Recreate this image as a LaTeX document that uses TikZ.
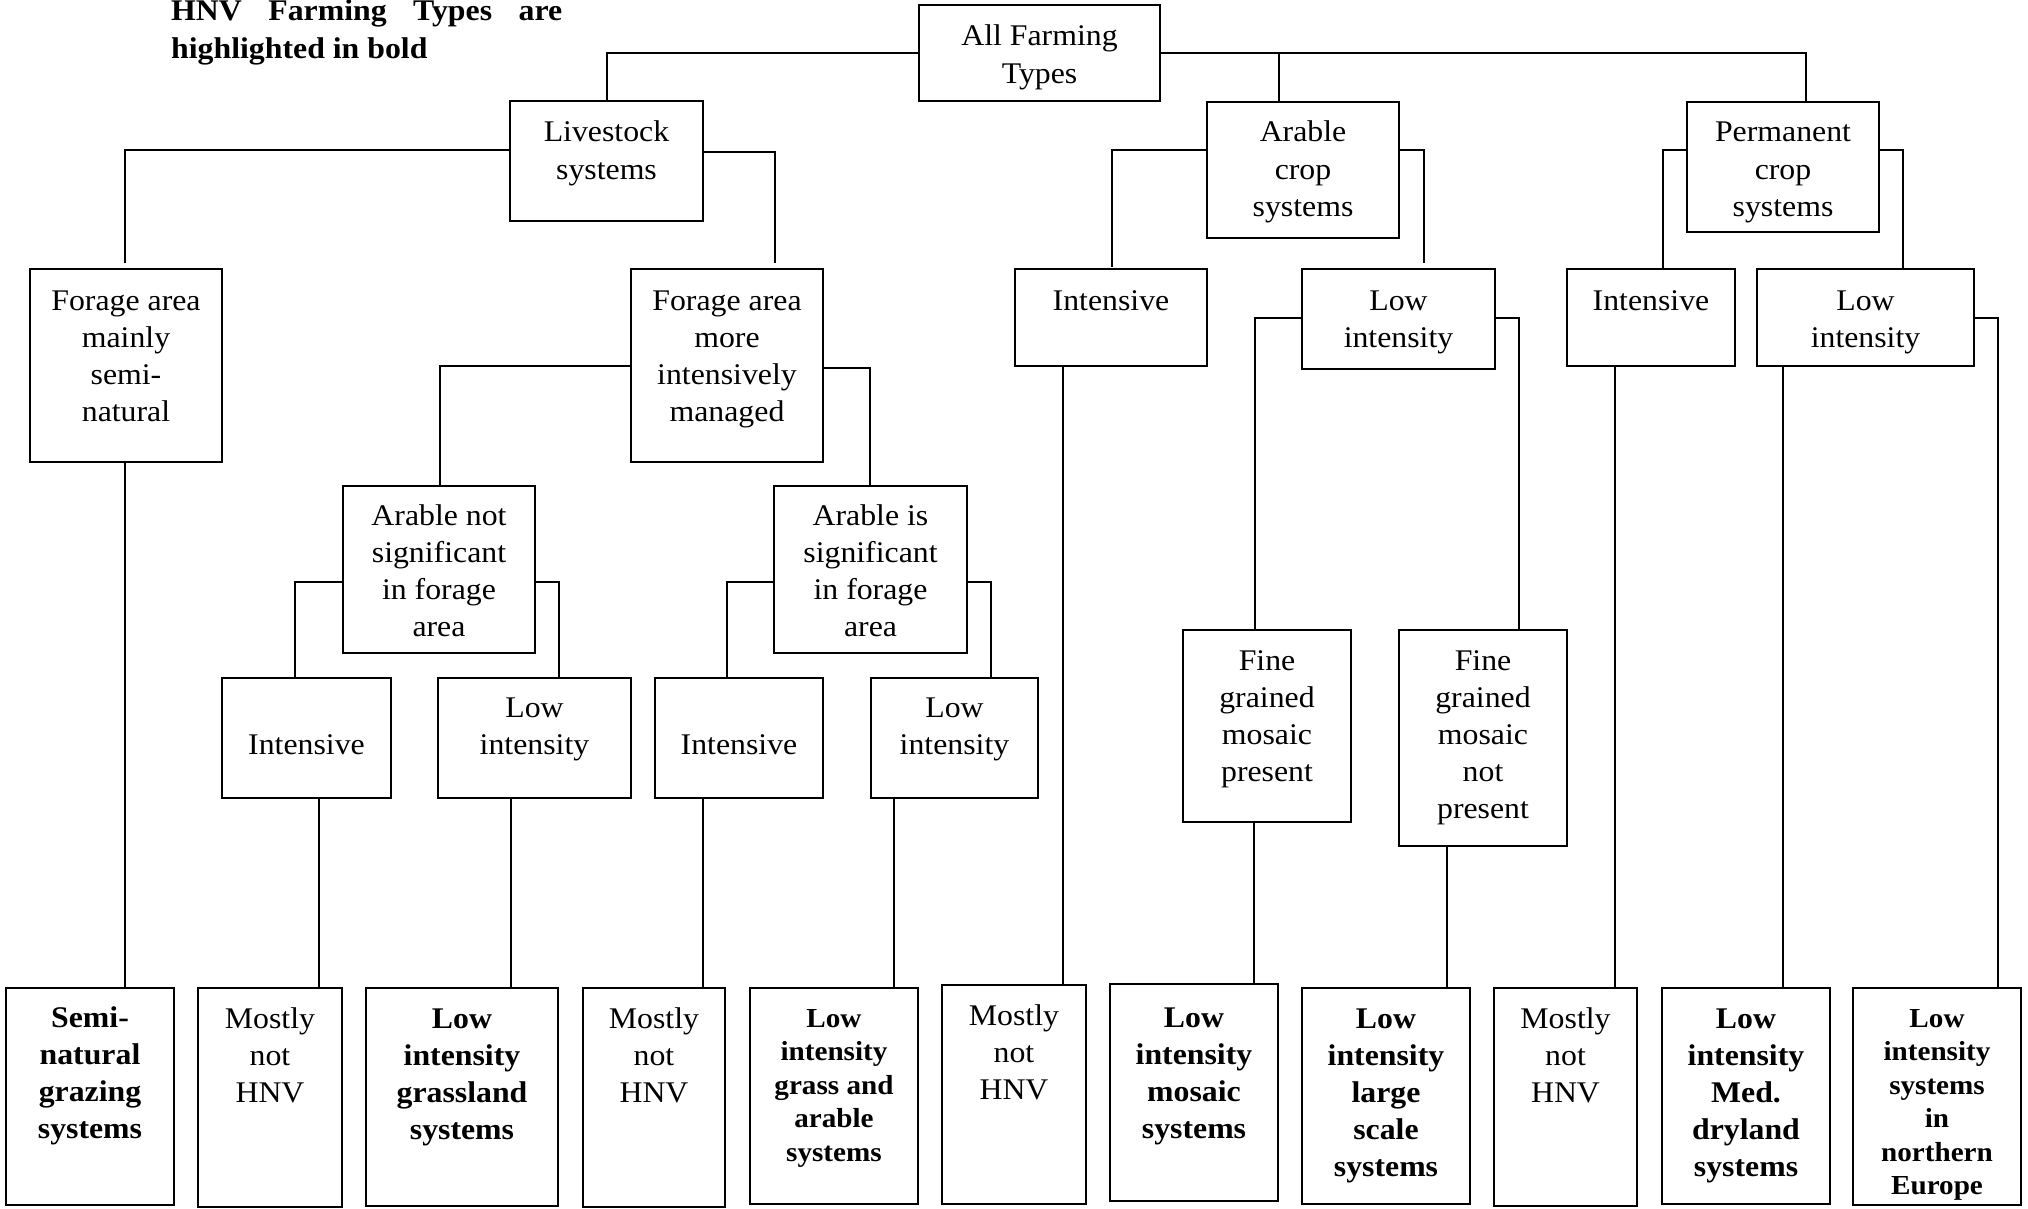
\documentclass[tikz,border=0pt]{standalone}
\usepackage{fontspec}
\setmainfont{Liberation Serif}[FakeStretch=1.06]
\newcommand\tb[4]{\parbox[t][#2pt][t]{#1pt}{\centering\rule{0pt}{#3pt}#4\par}}
\newcommand\smb{\fontsize{27.5}{33.5}\selectfont\bfseries}
\tikzset{
  box/.style={draw, line width=2.2pt, inner sep=0pt, outer sep=0pt, anchor=north west},
  conn/.style={line width=1.5pt},
  gap/.style={shorten >=6pt},
}
\begin{document}
\begin{tikzpicture}[x=1pt,y=-1pt,font=\fontsize{30}{37.2}\selectfont]
\useasboundingbox (0,0) rectangle (2028,1209);

% title
\node[anchor=base west, inner sep=0pt] (title) at (171,21)
  {\parbox[t]{391pt}{\bfseries\fontsize{30}{38}\selectfont\makebox[391pt][s]{HNV Farming Types are}\\highlighted in bold}};

% level 0/1
\node[box] (all)  at (919,5)    {\tb{241}{96}{41}{All Farming\\Types}};
\node[box] (live) at (510,101)  {\tb{193}{120}{41}{Livestock\\systems}};
\node[box] (arab) at (1207,102) {\tb{192}{136}{40}{Arable\\crop\\systems}};
\node[box] (perm) at (1687,102) {\tb{192}{130}{40}{Permanent\\crop\\systems}};

% level 2
\node[box] (fmain) at (30,269)   {\tb{192}{193}{41}{Forage area\\mainly\\semi-\\natural}};
\node[box] (fmore) at (631,269)  {\tb{192}{193}{41}{Forage area\\more\\intensively\\managed}};
\node[box] (aint)  at (1015,269) {\tb{192}{97}{41}{Intensive}};
\node[box] (alow)  at (1302,269) {\tb{193}{100}{41}{Low\\intensity}};
\node[box] (pint)  at (1567,269) {\tb{168}{97}{41}{Intensive}};
\node[box] (plow)  at (1757,269) {\tb{217}{97}{41}{Low\\intensity}};

% level 3
\node[box] (ansig) at (343,486) {\tb{192}{167}{39}{Arable not\\significant\\in forage\\area}};
\node[box] (asig)  at (774,486) {\tb{193}{167}{39}{Arable is\\significant\\in forage\\area}};
\node[box] (fgp)   at (1183,630) {\tb{168}{192}{40}{Fine\\grained\\mosaic\\present}};
\node[box] (fgnp)  at (1399,630) {\tb{168}{216}{40}{Fine\\grained\\mosaic\\not\\present}};

% level 4
\node[box] (int1) at (222,678) {\tb{169}{120}{76}{Intensive}};
\node[box] (low1) at (438,678) {\tb{193}{120}{39}{Low\\intensity}};
\node[box] (int2) at (655,678) {\tb{168}{120}{76}{Intensive}};
\node[box] (low2) at (871,678) {\tb{167}{120}{39}{Low\\intensity}};

% bottom row
\node[box] (semi) at (6,988)    {\tb{168}{217}{39}{\bfseries Semi-\\natural\\grazing\\systems}};
\node[box] (mnh1) at (198,988)  {\tb{144}{219}{40}{Mostly\\not\\HNV}};
\node[box] (lig)  at (366,988)  {\tb{192}{218}{40}{\bfseries Low\\intensity\\grassland\\systems}};
\node[box] (mnh2) at (583,988)  {\tb{142}{219}{40}{Mostly\\not\\HNV}};
\node[box] (liga) at (750,988)  {\tb{168}{216}{39}{\smb Low\\intensity\\grass and\\arable\\systems}};
\node[box] (mnh3) at (942,985)  {\tb{144}{219}{40}{Mostly\\not\\HNV}};
\node[box] (lim)  at (1110,984) {\tb{168}{217}{43}{\bfseries Low\\intensity\\mosaic\\systems}};
\node[box] (lils) at (1302,988) {\tb{168}{216}{40}{\bfseries Low\\intensity\\large\\scale\\systems}};
\node[box] (mnh4) at (1494,988) {\tb{143}{218}{40}{Mostly\\not\\HNV}};
\node[box] (limd) at (1662,988) {\tb{168}{216}{40}{\bfseries Low\\intensity\\Med.\\dryland\\systems}};
\begin{scope}
  \clip (1853,988) rectangle (2021,1204);
  \node[box, draw=none] (eu) at (1853,988) {\tb{168}{217}{39}{\smb Low\\intensity\\systems\\in\\northern\\Europe}};
\end{scope}
\draw[line width=2.2pt] (eu.north west) rectangle (eu.south east);

% junction coordinates
\coordinate (k1) at (607,53);
\coordinate (k2) at (1806,53);
\coordinate (k3) at (1279,53);
\coordinate (k4) at (125,150);
\coordinate (k5) at (775,152);
\coordinate (k6) at (440,366);
\coordinate (k7) at (870,368);
\coordinate (k8) at (295,582);
\coordinate (k9) at (559,582);
\coordinate (k10) at (727,582);
\coordinate (k11) at (991,582);
\coordinate (k16) at (1112,150);
\coordinate (k17) at (1424,150);
\coordinate (k19) at (1255,318);
\coordinate (k20) at (1519,318);
\coordinate (k23) at (1663,150);
\coordinate (k24) at (1903,150);
\coordinate (k27) at (1998,318);
\coordinate (v1) at (319,0);
\coordinate (v2) at (511,0);
\coordinate (v3) at (703,0);
\coordinate (v4) at (894,0);
\coordinate (v5) at (1063,0);
\coordinate (v6) at (1254,0);
\coordinate (v7) at (1447,0);
\coordinate (v8) at (1615,0);
\coordinate (v9) at (1783,0);

% connectors
\draw[conn] (all.west |- k1) -- (k1) -- (live.north -| k1);
\draw[conn] (all.east |- k2) -- (k2) -- (perm.north -| k2);
\draw[conn] (k3) -- (arab.north -| k3);
\draw[conn,gap] (live.west |- k4) -- (k4) -- (fmain.north -| k4);
\draw[conn,gap] (live.east |- k5) -- (k5) -- (fmore.north -| k5);
\draw[conn] (fmain.south -| k4) -- (semi.north -| k4);
\draw[conn] (fmore.west |- k6) -- (k6) -- (ansig.north -| k6);
\draw[conn] (fmore.east |- k7) -- (k7) -- (asig.north -| k7);
\draw[conn] (ansig.west |- k8) -- (k8) -- (int1.north -| k8);
\draw[conn] (ansig.east |- k9) -- (k9) -- (low1.north -| k9);
\draw[conn] (asig.west |- k10) -- (k10) -- (int2.north -| k10);
\draw[conn] (asig.east |- k11) -- (k11) -- (low2.north -| k11);
\draw[conn] (int1.south -| v1) -- (mnh1.north -| v1);
\draw[conn] (low1.south -| v2) -- (lig.north -| v2);
\draw[conn] (int2.south -| v3) -- (mnh2.north -| v3);
\draw[conn] (low2.south -| v4) -- (liga.north -| v4);
\draw[conn,shorten >=2pt] (arab.west |- k16) -- (k16) -- (aint.north -| k16);
\draw[conn,gap] (arab.east |- k17) -- (k17) -- (alow.north -| k17);
\draw[conn] (aint.south -| v5) -- (mnh3.north -| v5);
\draw[conn] (alow.west |- k19) -- (k19) -- (fgp.north -| k19);
\draw[conn] (alow.east |- k20) -- (k20) -- (fgnp.north -| k20);
\draw[conn] (fgp.south -| v6) -- (lim.north -| v6);
\draw[conn] (fgnp.south -| v7) -- (lils.north -| v7);
\draw[conn] (perm.west |- k23) -- (k23) -- (pint.north -| k23);
\draw[conn] (perm.east |- k24) -- (k24) -- (plow.north -| k24);
\draw[conn] (pint.south -| v8) -- (mnh4.north -| v8);
\draw[conn] (plow.south -| v9) -- (limd.north -| v9);
\draw[conn] (plow.east |- k27) -- (k27) -- (eu.north -| k27);
\end{tikzpicture}
\end{document}
